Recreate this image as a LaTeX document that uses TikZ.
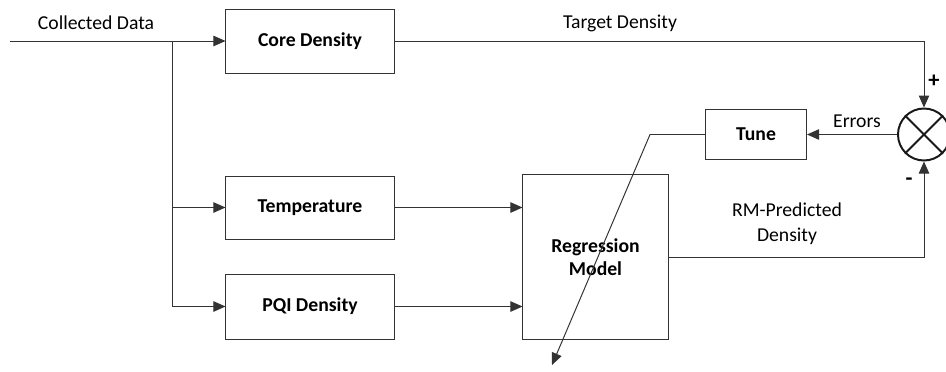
\documentclass[tikz,border=0pt]{standalone}
\usepackage{fontspec}
\setmainfont{Carlito}
\usepackage{tikz}
\usetikzlibrary{
    positioning,
    arrows.meta,
    calc,
}
\tikzset{
    % Block styles
    block/.style={rectangle, draw=black!80, line width=0.7pt, minimum width=4.2cm,
                  minimum height=1.6cm, align=center, inner sep=0pt,
                  font=\fontsize{14}{16.5}\selectfont\bfseries},
    % Arrow styles
    arrow/.style={-{Triangle[length=3mm, width=2.6mm]}, line width=0.7pt, black!80},
    % Annotation styles
    annot/.style={font=\fontsize{14}{17.5}\selectfont, align=center},
}

\begin{document}
\begin{tikzpicture}[x=0.025cm, y=-0.025cm,
    summer/.style={circle, draw=black!90, line width=1.4pt, minimum size=1.3cm, inner sep=0pt},
]
    \useasboundingbox (0,0) rectangle (946,371);

    % Blocks
    \node[block] (core) at (310,41) {Core Density};
    \node[block, minimum height=1.575cm] (temp) at (310,207.5) {Temperature};
    \node[block, minimum height=1.625cm] (pqi) at (310,306.5) {PQI Density};
    \node[block, minimum width=3.625cm, minimum height=4.1cm] (rm) at (595.5,257) {Regression\\Model};
    \node[block, minimum width=2.525cm, minimum height=1.25cm] (tune) at (756,134.5) {Tune};
    \node[summer] (sum) at (924,134.5) {};
    \draw[line width=1.4pt, black!90] (sum.north west) -- (sum.south east)
        (sum.north east) -- (sum.south west);

    % Inputs
    \coordinate (in) at (10,41);
    \coordinate (split) at (172,41);
    \draw[arrow] (in) -- (core.west);
    \draw[arrow] (split) |- (pqi.west);
    \draw[arrow] (split |- temp.west) -- (temp.west);
    \draw[arrow] (temp.east) -- (temp.east -| rm.west);
    \draw[arrow] (pqi.east) -- (pqi.east -| rm.west);

    % Feedback loop
    \draw[arrow] (core.east) -| (sum.north);
    \draw[arrow] (rm.east) -| (sum.south);
    \draw[arrow] (sum.west) -- (tune.east);
    \coordinate (knee) at (650,134.5);
    \coordinate (tip) at (552,365);
    \draw[arrow] (tune.west) -- (knee) -- (tip);

    % Labels
    \node[annot] (collected) at (96,23) {Collected Data};
    \node[annot] (target) at (620,23) {Target Density};
    \node[annot] (errors) at (857,121) {Errors};
    \node[annot] (rmpred) at (787,224) {RM-Predicted\\Density};
    \node[annot, font=\fontsize{16}{18}\selectfont\bfseries] (plus) at (934,81) {+};
    \node[annot, font=\fontsize{16}{18}\selectfont\bfseries] (minus) at (909,182) {-};
\end{tikzpicture}
\end{document}
